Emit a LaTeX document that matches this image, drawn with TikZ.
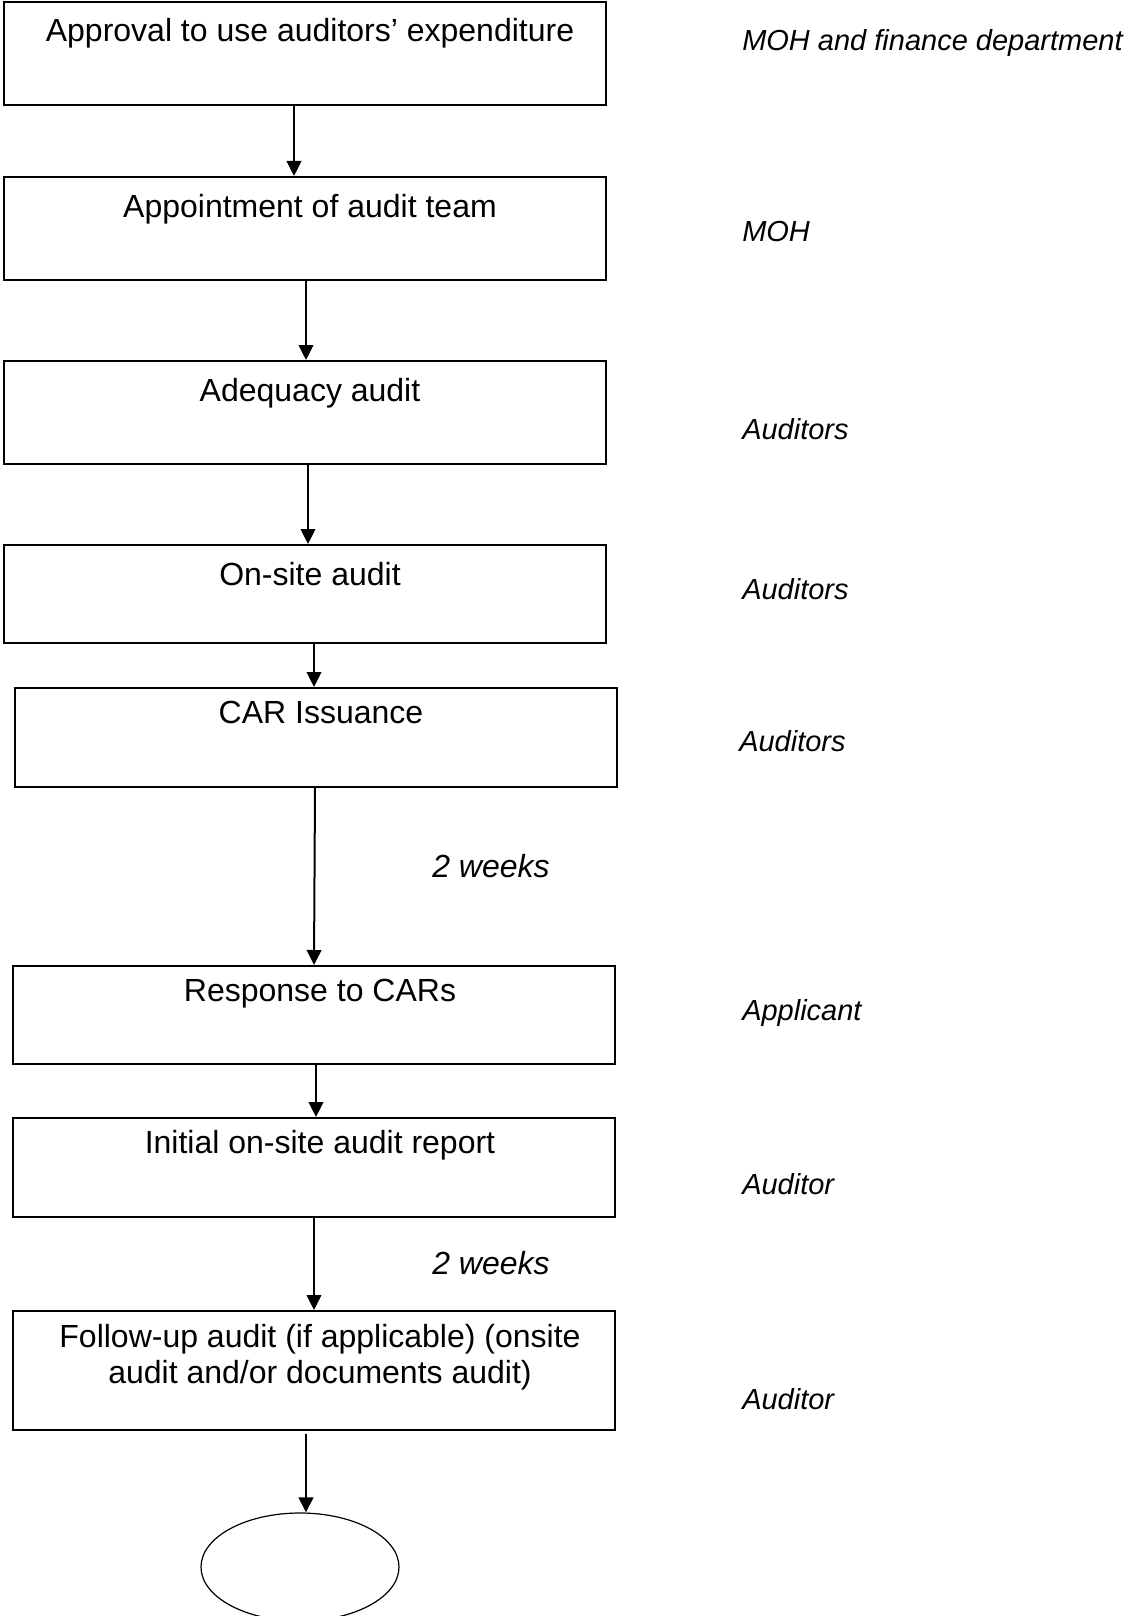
\documentclass[tikz,border=0pt]{standalone}
\usepackage{fontspec}
\setmainfont{Liberation Sans}
\usetikzlibrary{arrows.meta,shapes.geometric}
\begin{document}
\begin{tikzpicture}[x=0.75pt,y=-0.75pt,
  stepbox/.style={draw, line width=1.5pt, rectangle, inner sep=0pt, minimum width=451.5pt},
  steptext/.style={anchor=base, inner sep=0pt, font=\fontsize{24}{28}\selectfont},
  role/.style={anchor=base west, inner sep=0pt, font=\fontsize{21.75}{26}\selectfont\itshape},
  timing/.style={anchor=base west, inner sep=0pt, font=\fontsize{24}{28}\selectfont\itshape},
  flow/.style={line width=1.5pt, -{Triangle[length=11.25pt, width=11pt]}},
  endnode/.style={draw, line width=0.9pt, ellipse, inner sep=0pt, minimum width=148.5pt, minimum height=81pt}]

\useasboundingbox (0,0) rectangle (1127,1616);
\clip (0,0) rectangle (1127,1616);

% process steps (sizes in pt: 1 unit = 0.75pt)
\node[stepbox, minimum height=77.25pt] (b1) at (305,53.5) {};
\node[stepbox, minimum height=77.25pt] (b2) at (305,228.5) {};
\node[stepbox, minimum height=77.25pt] (b3) at (305,412.5) {};
\node[stepbox, minimum height=73.5pt]  (b4) at (305,594) {};
\node[stepbox, minimum height=74.25pt] (b5) at (316,737.5) {};
\node[stepbox, minimum height=73.5pt]  (b6) at (314,1015) {};
\node[stepbox, minimum height=74.25pt] (b7) at (314,1167.5) {};
\node[stepbox, minimum height=89.25pt] (b8) at (314,1370.5) {};
\node[endnode] (e) at (300,1567) {};

% step titles
\node[steptext] (t1) at (310,42) {Approval to use auditors’ expenditure};
\node[steptext] (t2) at (310,217) {Appointment of audit team};
\node[steptext] (t3) at (310,401) {Adequacy audit};
\node[steptext] (t4) at (310,585) {On-site audit};
\node[steptext] (t5) at (321,723) {CAR Issuance};
\node[steptext] (t6) at (320,1001) {Response to CARs};
\node[steptext] (t7) at (320,1153) {Initial on-site audit report};
\node[steptext] (t8a) at (320,1347) {Follow-up audit (if applicable) (onsite};
\node[steptext] (t8b) at (320,1383) {audit and/or documents audit)};

% responsible parties
\node[role] (r1) at (742,51) {MOH and finance department};
\node[role] (r2) at (742,241) {MOH};
\node[role] (r3) at (742,439) {Auditors};
\node[role] (r4) at (742,599) {Auditors};
\node[role] (r5) at (739,751) {Auditors};
\node[role] (r6) at (742,1020) {Applicant};
\node[role] (r7) at (742,1194) {Auditor};
\node[role] (r8) at (742,1409) {Auditor};

% durations
\node[timing] (w1) at (432,877) {2 weeks};
\node[timing] (w2) at (432,1274) {2 weeks};

% connectors
\draw[flow] ([xshift=-8.25pt]b1.south) -- ([xshift=-8.25pt]b2.north);
\draw[flow] ([xshift=0.75pt]b2.south) -- ([xshift=0.75pt]b3.north);
\draw[flow] ([xshift=2.25pt]b3.south) -- ([xshift=2.25pt]b4.north);
\draw[flow] ([xshift=6.75pt]b4.south) -- ([xshift=-1.5pt]b5.north);
\draw[flow] ([xshift=-0.75pt]b5.south) -- (b6.north);
\draw[flow] ([xshift=1.5pt]b6.south) -- ([xshift=1.5pt]b7.north);
\draw[flow] (b7.south) -- (b8.north);
\draw[flow, shorten <=2.25pt] ([xshift=-6pt]b8.south) -- ([xshift=4.5pt]e.north);
\end{tikzpicture}
\end{document}
